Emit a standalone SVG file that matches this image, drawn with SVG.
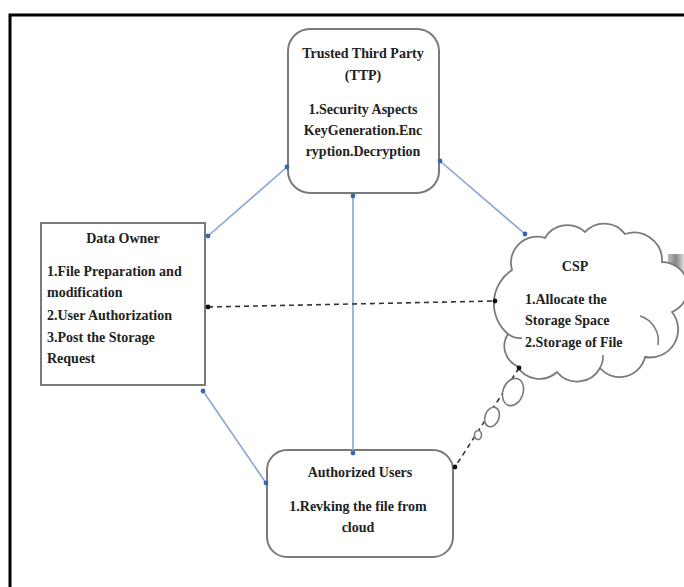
<svg xmlns="http://www.w3.org/2000/svg" width="684" height="587" viewBox="0 0 684 587">
<style>
  .t { font-family: "Liberation Serif", "Times New Roman", serif; font-size: 14px; font-weight: bold; fill: #222; }
  .c { text-anchor: middle; }
  .box { fill: #fff; stroke: #7a7a7a; stroke-width: 2; }
  .blue { stroke: #86a6d6; stroke-width: 1.6; fill: none; marker-start: url(#bdot); marker-end: url(#bdot); }
  .dash { stroke: #333; stroke-width: 1.6; fill: none; stroke-dasharray: 5 4; marker-start: url(#kdot); marker-end: url(#kdot); }
  .cloud { fill: #fff; stroke: #7a7a7a; stroke-width: 1.8; }
</style>
<defs>
  <marker id="bdot" viewBox="0 0 6 6" refX="3" refY="3" markerWidth="6" markerHeight="6" markerUnits="userSpaceOnUse">
    <circle cx="3" cy="3" r="2.4" fill="#3b66ad"/>
  </marker>
  <marker id="kdot" viewBox="0 0 6 6" refX="3" refY="3" markerWidth="6" markerHeight="6" markerUnits="userSpaceOnUse">
    <circle cx="3" cy="3" r="2.4" fill="#111"/>
  </marker>
  <linearGradient id="shade" x1="0" y1="0" x2="1" y2="0">
    <stop offset="0" stop-color="#bbb"/>
    <stop offset="0.5" stop-color="#888"/>
    <stop offset="1" stop-color="#ddd"/>
  </linearGradient>
</defs>
<rect x="0" y="0" width="684" height="587" fill="#fff"/>
<rect x="10" y="15" width="700" height="620" fill="none" stroke="#000" stroke-width="3"/>

<g id="ttp">
  <rect class="box" x="288" y="29" width="151" height="164" rx="22"/>
  <text class="t c" x="363" y="58">Trusted Third Party</text>
  <text class="t c" x="363" y="80">(TTP)</text>
  <text class="t c" x="363" y="114">1.Security Aspects</text>
  <text class="t c" x="363" y="135">KeyGeneration.Enc</text>
  <text class="t c" x="363" y="156">ryption.Decryption</text>
</g>

<g id="data-owner">
  <rect class="box" x="41" y="223" width="164" height="162"/>
  <text class="t c" x="123" y="243">Data Owner</text>
  <text class="t" x="47" y="276">1.File Preparation and</text>
  <text class="t" x="47" y="297">modification</text>
  <text class="t" x="47" y="320">2.User Authorization</text>
  <text class="t" x="47" y="342">3.Post the Storage</text>
  <text class="t" x="47" y="363">Request</text>
</g>

<g id="csp">
  <rect x="668" y="254" width="16" height="38" fill="url(#shade)"/>
  <path class="cloud" d="M 508 334 A 40 40 0 0 1 512 270 A 26 26 0 0 1 545 238 A 26 26 0 0 1 585 232 A 26 26 0 0 1 625 234 A 28 28 0 0 1 662 262 A 26 26 0 0 1 672 312 A 28 28 0 0 1 645 357 A 26 26 0 0 1 600 368 A 26 26 0 0 1 557 372 A 26 26 0 0 1 517 366 A 22 22 0 0 1 508 334 Z"/>
  <path d="M 640 316 A 26 26 0 0 1 658 345" fill="none" stroke="#7a7a7a" stroke-width="1.6"/>
  <path d="M 508 334 A 20 20 0 0 0 522 338" fill="none" stroke="#7a7a7a" stroke-width="1.6"/>
  <path d="M 600 368 A 24 24 0 0 0 603 355" fill="none" stroke="#7a7a7a" stroke-width="1.6"/>
  <text class="t c" x="575" y="271">CSP</text>
  <text class="t" x="525" y="304">1.Allocate the</text>
  <text class="t" x="525" y="325">Storage Space</text>
  <text class="t" x="525" y="347">2.Storage of File</text>
</g>

<g id="authorized-users">
  <rect class="box" x="267" y="450" width="186" height="107" rx="20"/>
  <text class="t c" x="360" y="477">Authorized Users</text>
  <text class="t c" x="358" y="511">1.Revking the file from</text>
  <text class="t c" x="358" y="532">cloud</text>
</g>

<g id="connectors">
  <line class="blue" x1="287" y1="167" x2="208" y2="236"/>
  <line class="blue" x1="440" y1="161" x2="525" y2="234"/>
  <line class="blue" x1="203" y1="391" x2="266" y2="483"/>
  <line class="blue" x1="353" y1="196" x2="353" y2="453"/>
  <line class="dash" x1="208" y1="307" x2="495" y2="301"/>
  <line class="dash" x1="519" y1="368" x2="455" y2="467"/>
  <g fill="#fff" stroke="#7a7a7a" stroke-width="1.6">
    <ellipse cx="513" cy="392" rx="10" ry="14" transform="rotate(20 513 392)"/>
    <ellipse cx="492" cy="417" rx="7" ry="10" transform="rotate(20 492 417)"/>
    <ellipse cx="478" cy="435" rx="3.5" ry="4.5"/>
  </g>
</g>
</svg>
